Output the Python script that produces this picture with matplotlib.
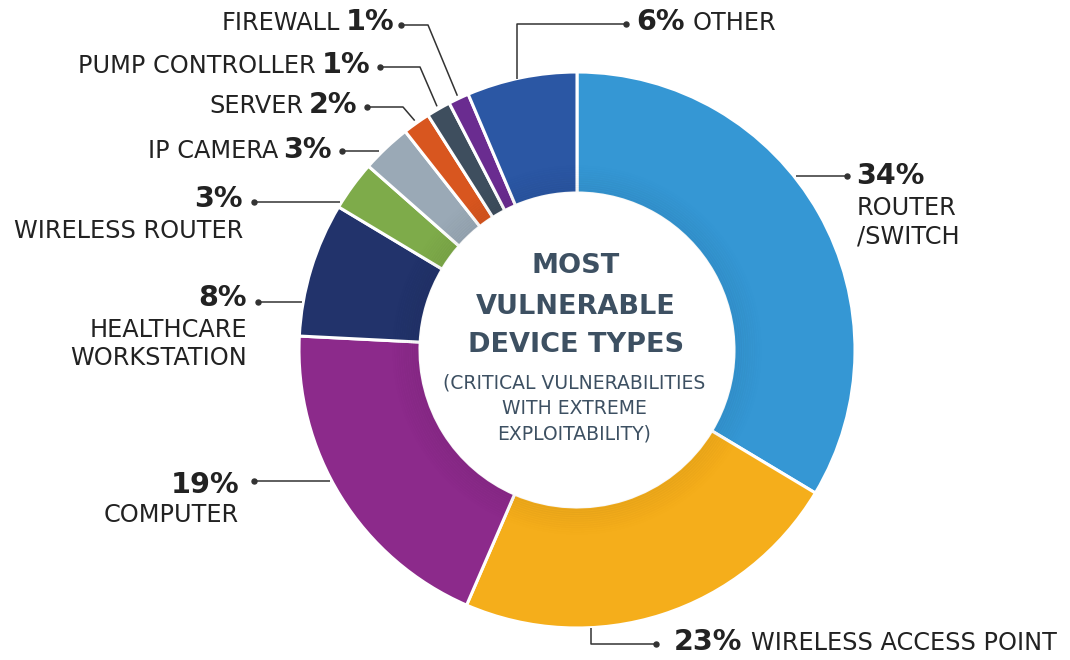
import matplotlib
matplotlib.use("Agg")
import matplotlib.pyplot as plt
import numpy as np

# ---------------- data ----------------
categories = ["ROUTER\n/SWITCH", "WIRELESS ACCESS POINT", "COMPUTER",
              "HEALTHCARE\nWORKSTATION", "WIRELESS ROUTER", "IP CAMERA",
              "SERVER", "PUMP CONTROLLER", "FIREWALL", "OTHER"]
# slice shares as read from the ring (labels are the rounded figures)
values = [33.6, 22.9, 19.3, 7.8, 2.9, 2.9, 1.6, 1.4, 1.2, 6.4]
pct_labels = ["34%", "23%", "19%", "8%", "3%", "3%", "2%", "1%", "1%", "6%"]
colors = ["#3597d4", "#f5ae1b", "#8c2a8b", "#22336b", "#7eab4a", "#9aa9b6",
          "#d8561f", "#3e4e5e", "#6a2c90", "#2b57a4"]

center_title = ["MOST", "VULNERABLE", "DEVICE TYPES"]
center_sub = ["(CRITICAL VULNERABILITIES", "WITH EXTREME", "EXPLOITABILITY)"]

# ---------------- layout (pixels) ----------------
W, H = 1070, 660
CX, CY = 577, 350
R_OUT, R_IN = 278, 157

TXT = "#222222"
LINE = "#333333"
SLATE = "#3d5062"
LBL_FONT = ["DejaVu Sans"]
PCT_FONT = ["DejaVu Sans"]
LBL_SIZE = 17.3
PCT_SIZE = 20.6

fig = plt.figure(figsize=(W / 100, H / 100), dpi=100)
ax = fig.add_axes([0, 0, 1, 1])


def Y(py):
    return H - py


wedges, _ = ax.pie(values, colors=colors, startangle=90, counterclock=False,
                   center=(CX, Y(CY)), radius=R_OUT, frame=True,
                   wedgeprops=dict(width=R_OUT - R_IN, edgecolor="white",
                                   linewidth=2.2))

# subtle inner shading (shadow of central disc)
for i in range(12):
    ring = plt.Circle((CX, Y(CY)), R_IN + 2 + i * 2.2, fill=False,
                      lw=2.4, color="black", alpha=0.022 * (12 - i) / 12 * 1.4,
                      zorder=3)
    ax.add_patch(ring)
ax.add_patch(plt.Circle((CX, Y(CY)), R_IN, color="white", zorder=4))

ax.set_xlim(0, W)
ax.set_ylim(0, H)
ax.set_aspect("equal")
ax.axis("off")


def circle_x(py, side):
    dy = py - CY
    return CX + side * np.sqrt(R_OUT ** 2 - dy ** 2)


def circle_y(px, side):
    dx = px - CX
    return CY + side * np.sqrt(R_OUT ** 2 - dx ** 2)


def mid_point(i, extra=2):
    w = wedges[i]
    a = np.deg2rad((w.theta1 + w.theta2) / 2)
    return CX + (R_OUT + extra) * np.cos(a), CY - (R_OUT + extra) * np.sin(a)


def leader(pts):
    xs = [p[0] for p in pts]
    ys = [Y(p[1]) for p in pts]
    ax.plot(xs, ys, color=LINE, lw=1.1, zorder=5, solid_capstyle="butt")
    ax.plot(xs[0], ys[0], "o", color=LINE, ms=3.6, zorder=6)


# leaders: dot first
leader([(847, 176), (circle_x(176, 1) + 2, 176)])                         # router
leader([(656, 644), (591, 644), (591, circle_y(591, 1))])                  # WAP
leader([(254, 481), (circle_x(481, -1) - 2, 481)])                        # computer
leader([(258, 302), (circle_x(302, -1) - 1, 302)])                        # healthcare
leader([(254, 202), (circle_x(202, -1) - 2, 202)])                        # wireless router
leader([(342, 151), (circle_x(151, -1) - 4, 151)])                        # ip camera
leader([(367, 107), (403, 107), mid_point(6, 3)])                          # server
leader([(380, 67), (420, 67), mid_point(7, 3)])                            # pump
leader([(401, 25), (428, 25), mid_point(8, 3)])                            # firewall
leader([(626, 24), (517, 24), (517, circle_y(517, -1))])                  # other


def pct(x, y, s, ha):
    return ax.text(x, Y(y), s, ha=ha, va="center", fontsize=PCT_SIZE,
                   family=PCT_FONT, fontweight="bold", color=TXT)


def lbl(x, y, s, ha):
    return ax.text(x, Y(y), s, ha=ha, va="center", fontsize=LBL_SIZE,
                   family=LBL_FONT, color=TXT)


def lbl_before(artist, s):
    ax.annotate(s, xy=(0, 0.5), xycoords=artist, xytext=(-4, -0.5),
                textcoords="offset points", ha="right", va="center",
                fontsize=LBL_SIZE, family=LBL_FONT, color=TXT)


def lbl_after(artist, s):
    ax.annotate(s, xy=(1, 0.5), xycoords=artist, xytext=(6, -0.5),
                textcoords="offset points", ha="left", va="center",
                fontsize=LBL_SIZE, family=LBL_FONT, color=TXT)


# router/switch
pct(856, 176, pct_labels[0], "left")
for k, line in enumerate(categories[0].split("\n")):
    lbl(857, 208 + 29 * k, line, "left")
# WAP
t = pct(674, 642, pct_labels[1], "left")
lbl_after(t, categories[1])
# computer
pct(239, 485, pct_labels[2], "right")
lbl(239, 515, categories[2], "right")
# healthcare
pct(247, 298, pct_labels[3], "right")
for k, line in enumerate(categories[3].split("\n")):
    lbl(247, 330 + 28 * k, line, "right")
# wireless router
pct(243, 199, pct_labels[4], "right")
lbl(243, 231, categories[4], "right")
# ip camera / server / pump / firewall
for i, (x, y) in zip([5, 6, 7, 8], [(332, 150), (357, 105), (370, 65), (394, 22)]):
    t = pct(x, y, pct_labels[i], "right")
    lbl_before(t, categories[i])
# other
t = pct(636, 22, pct_labels[9], "left")
lbl_after(t, categories[9])

# center text
for s, y in zip(center_title, [266, 307, 345]):
    ax.text(CX - 1, Y(y), s, ha="center", va="center", fontsize=19.5,
            family=["DejaVu Sans"], fontweight="bold", color=SLATE,
            zorder=7)
for s, y in zip(center_sub, [383, 409, 434]):
    ax.text(CX - 3, Y(y), s, ha="center", va="center", fontsize=13.5,
            family=LBL_FONT, color=SLATE, zorder=7)

fig.savefig("out.png", dpi=100, facecolor="white")
